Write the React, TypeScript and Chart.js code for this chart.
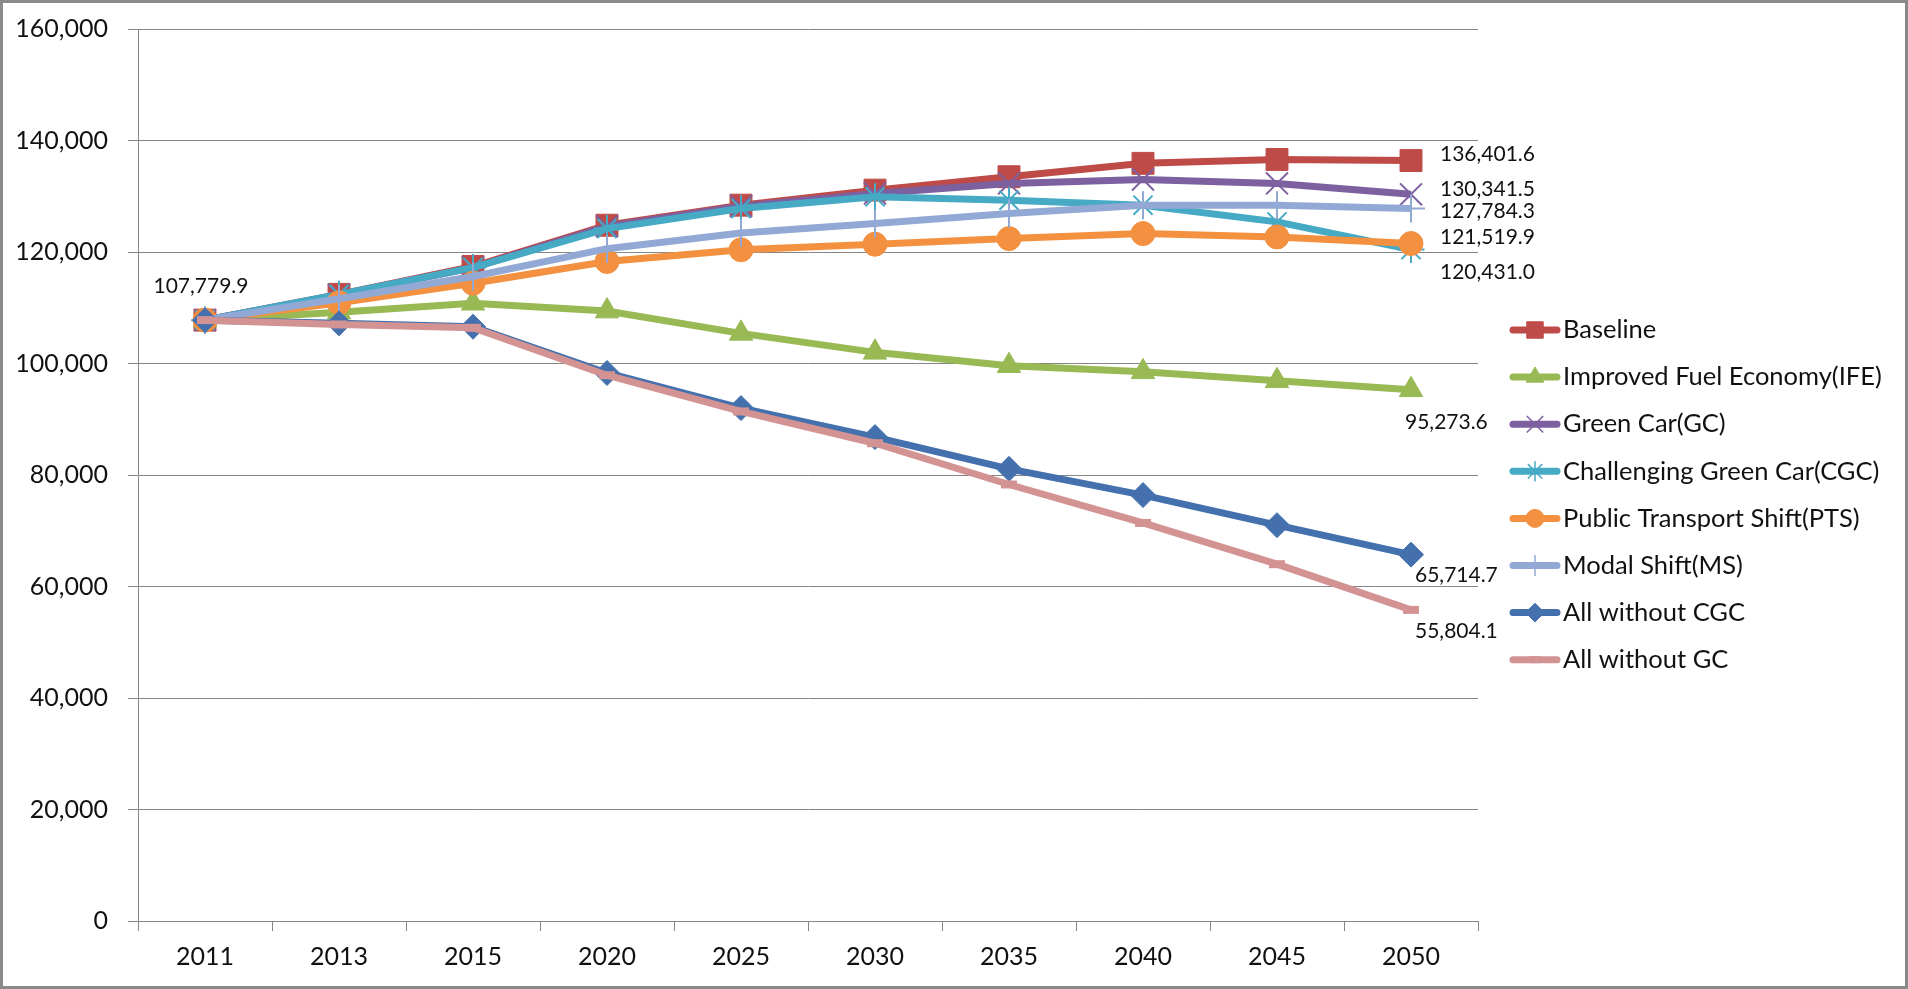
import React, { useEffect, useRef } from 'react';
import { Chart, registerables } from 'chart.js';
import { drawPoint } from 'chart.js/helpers';

Chart.register(...registerables);

// ---------- data ----------
const YEARS = ['2011', '2013', '2015', '2020', '2025', '2030', '2035', '2040', '2045', '2050'];

const SERIES_NAMES = [
  'Baseline',
  'Improved Fuel Economy(IFE)',
  'Green Car(GC)',
  'Challenging Green Car(CGC)',
  'Public Transport Shift(PTS)',
  'Modal Shift(MS)',
  'All without CGC',
  'All without GC',
];

const BASELINE = [107779.9, 112400, 117400, 124800, 128400, 131100, 133500, 135900, 136600, 136401.6];
const IFE = [107779.9, 109200, 110800, 109400, 105400, 102000, 99600, 98500, 96900, 95273.6];
const GC = [107779.9, 112300, 117200, 124600, 128200, 130500, 132300, 133000, 132300, 130341.5];
const CGC = [107779.9, 112400, 117200, 124200, 127800, 129900, 129300, 128400, 125400, 120431.0];
const PTS = [107779.9, 110900, 114400, 118300, 120400, 121400, 122400, 123300, 122700, 121519.9];
const MS = [107779.9, 111600, 115600, 120600, 123400, 125100, 126900, 128400, 128400, 127784.3];
const ALL_NO_CGC = [107779.9, 107200, 106600, 98300, 92000, 86800, 81100, 76400, 71000, 65714.7];
const ALL_NO_GC = [107779.9, 107000, 106400, 97900, 91400, 85700, 78300, 71400, 64000, 55804.1];

const SERIES_VALUES = [BASELINE, IFE, GC, CGC, PTS, MS, ALL_NO_CGC, ALL_NO_GC];

const Y_MIN = 0;
const Y_MAX = 160000;
const Y_STEP = 20000;

// ---------- styles ----------
const FONT = 'Lato, "Open Sans", "Noto Sans", sans-serif';
const GRID = '#868686';

const STYLES = [
  { color: '#BE4B48', pointStyle: 'rect', radius: 15.5, pw: 1, fill: true },
  { color: '#98B954', pointStyle: 'triangle', radius: 13.5, pw: 1, fill: true },
  { color: '#7D60A0', pointStyle: 'crossRot', radius: 15.5, pw: 2, fill: false },
  { color: '#46AAC5', pointStyle: 'star', radius: 13.5, pw: 2, fill: false },
  { color: '#F39140', pointStyle: 'circle', radius: 12, pw: 1, fill: true },
  { color: '#93A9D5', pointStyle: 'cross', radius: 14, pw: 2, fill: false },
  { color: '#4471AE', pointStyle: 'rectRot', radius: 12.5, pw: 1, fill: true },
  { color: '#D39393', pointStyle: 'line', radius: 8, pw: 8, fill: false },
];

// label offsets for the last point of each series (relative to the point)
const END_LABEL_OFFSETS = [
  { dx: 29, dy: -6 },
  { dx: -6, dy: 32 },
  { dx: 29, dy: -5 },
  { dx: 29, dy: 23 },
  { dx: 29, dy: -6 },
  { dx: 29, dy: 3 },
  { dx: 4, dy: 21 },
  { dx: 4, dy: 21 },
];
const START_LABEL_OFFSET = { dx: -4, dy: -34 };

const fmtLabel = (v: number) =>
  v.toLocaleString('en-US', { minimumFractionDigits: 1, maximumFractionDigits: 1 });

const dataLabelPlugin = {
  id: 'dataLabels',
  afterDatasetsDraw(chart: any) {
    const ctx = chart.ctx;
    ctx.save();
    ctx.font = `21px ${FONT}`;
    ctx.fillStyle = '#111';
    ctx.textBaseline = 'middle';
    const m0 = chart.getDatasetMeta(0);
    const p0 = m0.data[0];
    ctx.textAlign = 'center';
    ctx.fillText(fmtLabel(SERIES_VALUES[0][0]), p0.x + START_LABEL_OFFSET.dx, p0.y + START_LABEL_OFFSET.dy);
    ctx.textAlign = 'left';
    chart.data.datasets.forEach((ds: any, i: number) => {
      const meta = chart.getDatasetMeta(i);
      const last = meta.data.length - 1;
      const p = meta.data[last];
      const off = END_LABEL_OFFSETS[i];
      ctx.fillText(fmtLabel(ds.data[last]), p.x + off.dx, p.y + off.dy);
    });
    ctx.restore();
  },
};

const LEGEND_X = 1510;
const LEGEND_LINE_W = 50;
const LEGEND_TOP = 330;
const LEGEND_STEP = 47.1;

const legendPlugin = {
  id: 'customLegend',
  afterDraw(chart: any) {
    const ctx = chart.ctx;
    ctx.save();
    chart.data.datasets.forEach((ds: any, i: number) => {
      const st = STYLES[i];
      const y = LEGEND_TOP + i * LEGEND_STEP;
      ctx.strokeStyle = st.color;
      ctx.lineWidth = 7;
      ctx.lineCap = 'round';
      ctx.beginPath();
      ctx.moveTo(LEGEND_X + 3, y);
      ctx.lineTo(LEGEND_X + LEGEND_LINE_W - 3, y);
      ctx.stroke();
      ctx.lineCap = 'butt';
      ctx.fillStyle = st.color;
      ctx.strokeStyle = st.color;
      ctx.lineWidth = st.pointStyle === 'line' ? 7 : Math.max(1, st.pw - 0.5);
      drawPoint(ctx, { pointStyle: st.pointStyle, rotation: 0, radius: st.radius * 0.75, borderWidth: ctx.lineWidth }, LEGEND_X + LEGEND_LINE_W / 2, y);
      ctx.fillStyle = '#111';
      ctx.font = `25.5px ${FONT}`;
      ctx.textAlign = 'left';
      ctx.textBaseline = 'middle';
      ctx.fillText(ds.label, LEGEND_X + LEGEND_LINE_W + 3, y);
    });
    ctx.restore();
  },
};

const framePlugin = {
  id: 'frame',
  beforeDraw(chart: any) {
    const ctx = chart.ctx;
    ctx.save();
    ctx.fillStyle = '#fff';
    ctx.fillRect(0, 0, chart.width, chart.height);
    ctx.restore();
  },
  afterDraw(chart: any) {
    const ctx = chart.ctx;
    ctx.save();
    ctx.strokeStyle = '#8a8a8a';
    ctx.lineWidth = 3;
    ctx.strokeRect(1.5, 1.5, chart.width - 3, chart.height - 3);
    ctx.restore();
  },
};

export default function App() {
  const ref = useRef<HTMLCanvasElement>(null);

  useEffect(() => {
    if (!ref.current) return;
    const n = SERIES_NAMES.length;
    const chart = new Chart(ref.current, {
      type: 'line',
      data: {
        labels: YEARS,
        datasets: SERIES_NAMES.map((name, i) => ({
          label: name,
          data: SERIES_VALUES[i],
          borderColor: STYLES[i].color,
          backgroundColor: STYLES[i].color,
          borderWidth: 7,
          tension: 0,
          pointStyle: STYLES[i].pointStyle as any,
          pointRadius: STYLES[i].radius,
          pointBorderWidth: STYLES[i].pw,
          pointBorderColor: STYLES[i].color,
          pointBackgroundColor: STYLES[i].color,
          order: n - i,
        })),
      },
      options: {
        responsive: false,
        animation: false,
        events: [],
        layout: { padding: { top: 29, right: 430, bottom: 0, left: 0 } },
        plugins: {
          legend: { display: false },
          tooltip: { enabled: false },
        },
        scales: {
          x: {
            type: 'category',
            offset: true,
            grid: {
              display: true,
              drawOnChartArea: false,
              drawTicks: true,
              tickLength: 10,
              color: GRID,
              offset: true,
            },
            border: { display: true, color: GRID, width: 1 },
            ticks: {
              color: '#111',
              font: { family: FONT, size: 25 },
              padding: 11,
              maxRotation: 0,
              autoSkip: false,
            },
            afterFit: (s: any) => {
              s.height = 68;
              s.paddingLeft = 0;
              s.paddingRight = 0;
            },
          },
          y: {
            min: Y_MIN,
            max: Y_MAX,
            ticks: {
              stepSize: Y_STEP,
              color: '#111',
              font: { family: FONT, size: 25 },
              padding: 20,
              callback: (v: any) => Number(v).toLocaleString('en-US'),
            },
            grid: { color: GRID, tickLength: 10, drawTicks: true, lineWidth: 1 },
            border: { display: true, color: GRID, width: 1 },
            afterFit: (s: any) => {
              s.width = 138;
              s.paddingTop = 0;
              s.paddingBottom = 0;
            },
          },
        },
      },
      plugins: [framePlugin, dataLabelPlugin, legendPlugin],
    });
    return () => chart.destroy();
  }, []);

  return (
    <div style={{ position: 'fixed', left: 0, top: 0, width: 1908, height: 989, background: '#fff' }}>
      <canvas ref={ref} width={1908} height={989} style={{ display: 'block' }} />
    </div>
  );
}
